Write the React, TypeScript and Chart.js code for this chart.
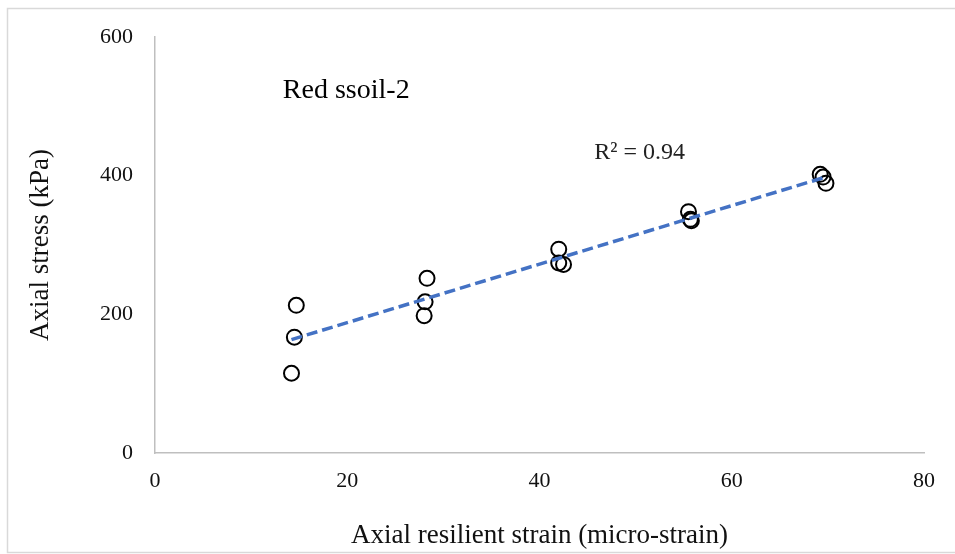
import React, { useEffect, useRef } from "react";
import { Chart, registerables } from "chart.js";

Chart.register(...registerables);

// Data
const strainX: number[] = [14.2, 14.5, 14.7, 28.0, 28.1, 28.3, 42.0, 42.0, 42.5, 55.5, 55.7, 55.8, 69.2, 69.5, 69.8];
const stressY: number[] = [115, 167, 213, 198, 218, 252, 294, 274, 272, 348, 337, 335, 402, 398, 389];

const xTicks: number[] = [0, 20, 40, 60, 80];
const yTicks: number[] = [0, 200, 400, 600];

const chartLabel = "Red ssoil-2";
const r2Label = "R² = 0.94";
const xTitle = "Axial resilient strain (micro-strain)";
const yTitle = "Axial stress (kPa)";

// annotation anchors in data units
const labelAnchor = { x: 13.3, y: 512 };
const r2Anchor = { x: 45.7, y: 424 };

const FONT = "'Liberation Serif', 'Times New Roman', serif";

function linearFit(xs: number[], ys: number[]) {
  const n = xs.length;
  const mx = xs.reduce((a, b) => a + b, 0) / n;
  const my = ys.reduce((a, b) => a + b, 0) / n;
  let sxy = 0;
  let sxx = 0;
  for (let i = 0; i < n; i++) {
    sxy += (xs[i] - mx) * (ys[i] - my);
    sxx += (xs[i] - mx) * (xs[i] - mx);
  }
  const slope = sxy / sxx;
  return { slope, intercept: my - slope * mx };
}

export default function App() {
  const ref = useRef<HTMLCanvasElement | null>(null);

  useEffect(() => {
    if (!ref.current) return;
    const fit = linearFit(strainX, stressY);
    const xmin = Math.min(...strainX);
    const xmax = Math.max(...strainX);
    const trend = [
      { x: xmin, y: fit.slope * xmin + fit.intercept },
      { x: xmax, y: fit.slope * xmax + fit.intercept },
    ];

    const framePlugin = {
      id: "frame",
      beforeDraw(chart: any) {
        const ctx = chart.ctx;
        ctx.save();
        ctx.fillStyle = "#ffffff";
        ctx.fillRect(0, 0, chart.width, chart.height);
        ctx.strokeStyle = "#D9D9D9";
        ctx.lineWidth = 1.5;
        ctx.strokeRect(7.5, 8.5, chart.width + 10, chart.height - 10);
        ctx.restore();
      },
      afterDraw(chart: any) {
        const ctx = chart.ctx;
        const xs = chart.scales.x;
        const ys = chart.scales.y;
        ctx.save();
        ctx.fillStyle = "#000000";
        ctx.textBaseline = "alphabetic";
        ctx.textAlign = "left";
        ctx.font = `28px ${FONT}`;
        ctx.fillText(chartLabel, xs.getPixelForValue(labelAnchor.x), ys.getPixelForValue(labelAnchor.y));
        ctx.font = `24px ${FONT}`;
        ctx.fillStyle = "#222222";
        ctx.fillText(r2Label, xs.getPixelForValue(r2Anchor.x), ys.getPixelForValue(r2Anchor.y));
        ctx.restore();
      },
    };

    const chart = new Chart(ref.current, {
      type: "scatter",
      data: {
        datasets: [
          {
            type: "line",
            label: "Trend",
            data: trend,
            borderColor: "#4472C4",
            borderWidth: 3.5,
            borderDash: [11, 5],
            borderCapStyle: "butt",
            pointRadius: 0,
            fill: false,
            order: 0,
          } as any,
          {
            label: "Data",
            data: strainX.map((x, i) => ({ x, y: stressY[i] })),
            pointStyle: "circle",
            pointRadius: 7.5,
            borderWidth: 2,
            borderColor: "#000000",
            backgroundColor: "rgba(0,0,0,0)",
            order: 1,
          },
        ],
      },
      options: {
        animation: false,
        responsive: false,
        layout: { padding: { left: 0, right: 31, top: 37, bottom: 0 } },
        plugins: {
          legend: { display: false },
          tooltip: { enabled: false },
        },
        scales: {
          x: {
            type: "linear",
            min: 0,
            max: 80,
            afterFit: (s: any) => {
              s.height = 101;
            },
            afterBuildTicks: (s: any) => {
              s.ticks = xTicks.map((v) => ({ value: v }));
            },
            grid: { display: false, drawTicks: false },
            border: { display: true, color: "#BFBFBF", width: 1.5 },
            ticks: {
              padding: 15,
              maxRotation: 0,
              color: "#111111",
              font: { family: FONT, size: 22 },
            },
            title: {
              display: true,
              text: xTitle,
              color: "#111111",
              font: { family: FONT, size: 27 },
              padding: { top: 0, bottom: 2 },
            },
          },
          y: {
            type: "linear",
            min: 0,
            max: 600,
            afterFit: (s: any) => {
              s.width = 155;
            },
            afterBuildTicks: (s: any) => {
              s.ticks = yTicks.map((v) => ({ value: v }));
            },
            grid: { display: false, drawTicks: false },
            border: { display: true, color: "#BFBFBF", width: 1.5 },
            ticks: {
              padding: 22,
              color: "#111111",
              font: { family: FONT, size: 22 },
            },
            title: {
              display: true,
              text: yTitle,
              color: "#111111",
              font: { family: FONT, size: 27 },
              padding: { top: 25, bottom: 0 },
            },
          },
        },
      },
      plugins: [framePlugin],
    });
    return () => chart.destroy();
  }, []);

  return (
    <div style={{ position: "absolute", left: 0, top: 0, width: 955, height: 554, overflow: "hidden" }}>
      <canvas ref={ref} width={955} height={554} style={{ display: "block" }} />
    </div>
  );
}
